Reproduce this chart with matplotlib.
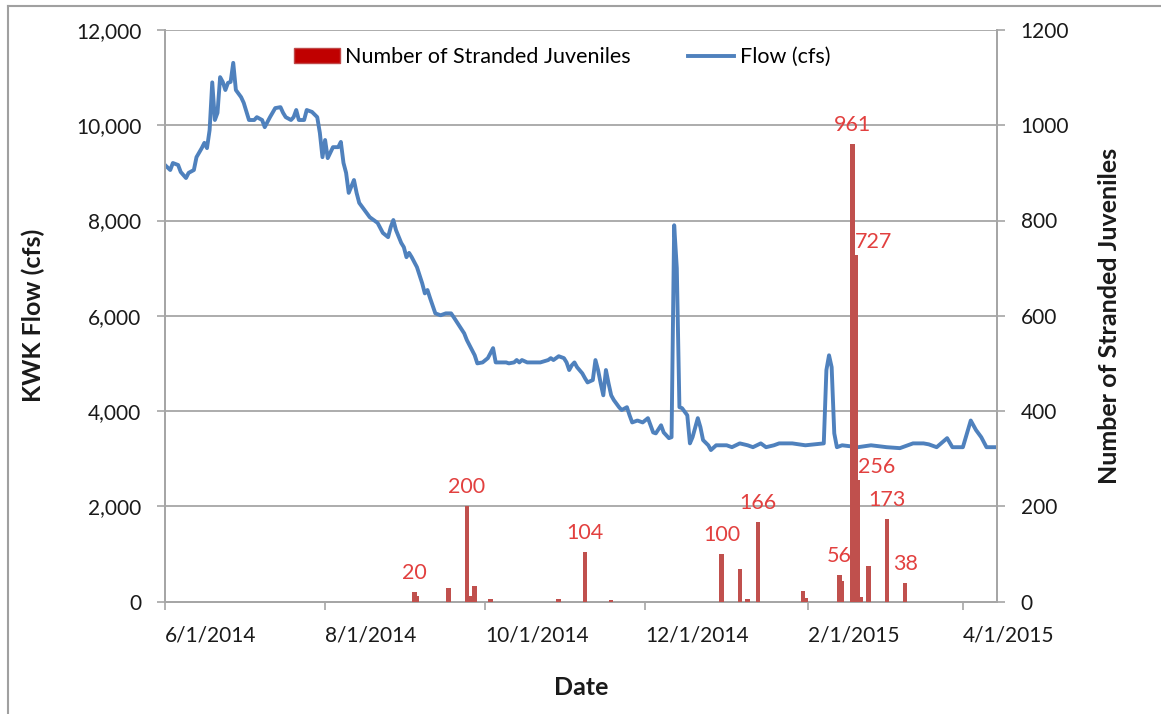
import matplotlib
matplotlib.use("Agg")
from matplotlib import pyplot as plt
from matplotlib.lines import Line2D
from matplotlib.patches import Patch
from matplotlib.ticker import FuncFormatter, MultipleLocator
import matplotlib.dates as mdates
import pandas as pd

start = pd.Timestamp("2014-06-01")
end = pd.Timestamp("2015-04-14")

# KWK flow: days after 6/1/2014 and cfs
flow_day = [0, 2, 3, 5, 6, 8, 9, 11, 12, 14, 15, 16, 17, 18, 19, 20, 21, 22, 23, 24,
            25, 26, 27, 29, 30, 32, 34, 35, 37, 38, 40, 42, 44, 45, 46, 48, 49, 50, 51, 53,
            54, 56, 58, 59, 60, 61, 62, 64, 66, 67, 68, 69, 70, 72, 73, 74, 76, 78, 81, 83,
            85, 86, 87, 88, 90, 91, 92, 93, 94, 96, 98, 99, 100, 101, 103, 105, 107, 109, 110, 112,
            114, 115, 117, 118, 119, 121, 123, 125, 126, 128, 130, 131, 133, 134, 135, 136, 138, 140, 143, 146,
            147, 148, 150, 152, 153, 154, 155, 156, 157, 159, 160, 161, 163, 164, 165, 166, 167, 168, 169, 170,
            171, 173, 174, 176, 177, 178, 180, 182, 184, 185, 186, 187, 189, 190, 191, 192, 193, 194, 195, 196,
            197, 199, 200, 201, 203, 204, 205, 207, 208, 210, 211, 214, 216, 219, 222, 224, 227, 229, 232, 234,
            239, 244, 251, 252, 253, 254, 255, 256, 258, 264, 269, 275, 280, 285, 289, 291, 294, 298, 300, 304,
            307, 309, 311, 313, 317]
flow_cfs = [9165, 9060, 9207, 9165, 9018, 8892, 9000, 9060, 9330, 9520, 9630, 9520, 9900, 10900, 10110, 10260, 11010, 10910, 10740, 10890,
            10910, 11310, 10740, 10590, 10470, 10110, 10110, 10170, 10110, 9960, 10170, 10360, 10380, 10260, 10170, 10110, 10170, 10320, 10110, 10110,
            10320, 10280, 10170, 9840, 9330, 9690, 9310, 9540, 9540, 9650, 9210, 9000, 8580, 8850, 8580, 8370, 8220, 8070, 7950, 7740,
            7650, 7860, 8010, 7800, 7530, 7440, 7230, 7320, 7230, 7020, 6680, 6470, 6540, 6370, 6050, 6010, 6050, 6050, 5970, 5800,
            5630, 5490, 5280, 5170, 5000, 5020, 5110, 5320, 5020, 5020, 5020, 5000, 5020, 5070, 5020, 5070, 5020, 5020, 5020, 5070,
            5110, 5070, 5150, 5110, 5020, 4860, 4960, 5020, 4920, 4790, 4690, 4600, 4650, 5070, 4860, 4580, 4330, 4860, 4580, 4330,
            4230, 4080, 4020, 4080, 3910, 3760, 3800, 3760, 3850, 3700, 3550, 3530, 3700, 3550, 3490, 3430, 3450, 7900, 7000, 4080,
            4060, 3910, 3320, 3450, 3850, 3660, 3390, 3280, 3180, 3280, 3280, 3280, 3240, 3320, 3280, 3240, 3320, 3240, 3280, 3320,
            3320, 3280, 3320, 4860, 5170, 4920, 3530, 3240, 3280, 3240, 3280, 3240, 3220, 3320, 3320, 3300, 3240, 3430, 3240, 3240,
            3800, 3600, 3450, 3240, 3240]

# stranded juveniles per survey date
stranded_date = ["2014-09-04", "2014-09-05", "2014-09-17", "2014-09-24", "2014-09-25", "2014-09-27",
                 "2014-10-03", "2014-10-29", "2014-11-08", "2014-11-18", "2014-12-30", "2015-01-06",
                 "2015-01-09", "2015-01-13", "2015-01-30", "2015-01-31", "2015-02-13", "2015-02-14",
                 "2015-02-18", "2015-02-19", "2015-02-20", "2015-02-21", "2015-02-24", "2015-03-03",
                 "2015-03-10"]
stranded_count = [20, 12, 28, 200, 12, 32, 5, 5, 104, 4, 100, 68, 5, 166, 23, 8, 56, 42,
                  961, 727, 256, 10, 75, 173, 38]
labeled_date = ["2014-09-04", "2014-09-24", "2014-11-08", "2014-12-30", "2015-01-13",
                "2015-02-13", "2015-02-18", "2015-02-19", "2015-02-20", "2015-03-03", "2015-03-10"]

W, H = 1161, 714
blue = "#4F81BD"
red = "#C0504D"
lab_red = "#E2403F"
grid_c = "#A6A6A6"
txt = "#1a1a1a"
plt.rcParams["font.family"] = ["Lato", "DejaVu Sans"]

fig = plt.figure(figsize=(W / 100, H / 100), dpi=100)
ax = fig.add_axes([165 / W, 1 - 601.5 / H, (997 - 165) / W, (601.5 - 30) / H])
ax2 = ax.twinx()

dates = start + pd.to_timedelta(flow_day, unit="D")
ax.plot(dates, flow_cfs, color=blue, lw=2.8, solid_joinstyle="round")

bar_dates = pd.to_datetime(stranded_date)
ax2.bar(bar_dates, stranded_count, width=1.7, color=red, zorder=3)

for d, v in zip(bar_dates, stranded_count):
    if d.strftime("%Y-%m-%d") not in labeled_date:
        continue
    if v in (727, 256):
        ax2.annotate(str(v), (d, v), xytext=(0, 3), textcoords="offset pixels",
                     ha="left", va="bottom", color=lab_red, fontsize=15.5)
    else:
        ax2.annotate(str(v), (d, v), xytext=(0, 9), textcoords="offset pixels",
                     ha="center", va="bottom", color=lab_red, fontsize=15.5)

ax.set_xlim(start, end)
ax.set_ylim(0, 12000)
ax2.set_ylim(0, 1200)
ax.yaxis.set_major_locator(MultipleLocator(2000))
ax2.yaxis.set_major_locator(MultipleLocator(200))
ax.yaxis.set_major_formatter(FuncFormatter(lambda v, p: f"{int(v):,}"))
ax2.yaxis.set_major_formatter(FuncFormatter(lambda v, p: f"{int(v)}"))
ax.xaxis.set_major_locator(mdates.MonthLocator(bymonth=[2, 4, 6, 8, 10, 12]))
ax.xaxis.set_major_formatter(FuncFormatter(
    lambda v, p: "{d.month}/{d.day}/{d.year}".format(d=mdates.num2date(v))))
for lab in ax.get_xticklabels():
    lab.set_ha("left")

ax.grid(axis="y", color=grid_c, lw=1.3)
ax.set_axisbelow(True)
for a in (ax, ax2):
    a.spines["top"].set_visible(False)
    for s in ("left", "right", "bottom"):
        a.spines[s].set_color(grid_c)
        a.spines[s].set_linewidth(1.3)
    a.tick_params(colors=grid_c, labelcolor=txt, labelsize=15, length=6, width=1.2, pad=11)
ax.tick_params(axis="x", pad=11)

ax.set_ylabel("KWK Flow (cfs)", fontsize=18, fontweight="bold", color=txt, labelpad=22)
ax2.set_ylabel("Number of Stranded Juveniles", fontsize=18, fontweight="bold", color=txt, labelpad=21)
ax.set_xlabel("Date", fontsize=18, fontweight="bold", color=txt, labelpad=22)

handles = [Patch(facecolor="#C00000", edgecolor="#C04848"), Line2D([], [], color=blue, lw=2.8)]
fig.legend(handles, ["Number of Stranded Juveniles", "Flow (cfs)"], ncol=2, frameon=False,
           loc="center", bbox_to_anchor=(562 / W, 1 - 57 / H), fontsize=15.5,
           handlelength=2.15, handleheight=0.65, handletextpad=0.25, columnspacing=2.65)

# outer chart border
fig.add_artist(Line2D([8 / W, 8 / W], [0, 1 - 6 / H], transform=fig.transFigure, color="#A0A0A0", lw=1.5))
fig.add_artist(Line2D([8 / W, 1], [1 - 6 / H, 1 - 6 / H], transform=fig.transFigure, color="#A0A0A0", lw=1.5))

fig.savefig("out.png", dpi=100)
